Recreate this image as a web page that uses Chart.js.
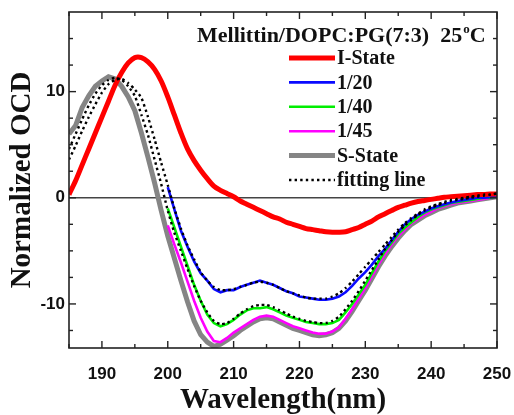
<!DOCTYPE html>
<html>
<head>
<meta charset="utf-8">
<script src="https://cdn.jsdelivr.net/npm/chart.js@4"></script>
<style>
  html, body { margin: 0; padding: 0; background: #fff; }
</style>
</head>
<body>
<canvas id="cdChart" width="514" height="415"></canvas>
<script>
// wavelengths (nm)
const wavelengths = [185,186,187,188,189,190,191,192,193,194,195,196,197,198,199,200,201,202,203,204,
  205,206,207,208,209,210,211,212,213,214,215,216,217,218,219,220,221,222,223,224,
  225,226,227,228,229,230,231,232,233,234,235,236,237,238,239,240,241,242,243,244,
  245,246,247,248,249,250];
const wavelengthsShort = [200,201,202,203,204,205,206,207,208,209,210,211,212,213,214,215,216,217,218,219,
  220,221,222,223,224,225,226,227,228,229,230,231,232,233,234,235,236,237,238,239,
  240,241,242,243,244,245,246,247,248,249,250];

const iState = [0.3,1.6,3.1,4.6,6.1,7.6,9.1,10.6,11.8,12.7,
  13.2,13.2,12.8,12.1,11.0,9.5,7.8,6.1,4.6,3.5,
  2.6,1.8,1.1,0.7,0.4,0.1,-0.3,-0.6,-0.9,-1.2,
  -1.5,-1.8,-2.0,-2.3,-2.5,-2.7,-2.9,-3.0,-3.1,-3.2,
  -3.25,-3.25,-3.2,-3.0,-2.8,-2.5,-2.2,-1.8,-1.5,-1.2,
  -0.9,-0.7,-0.5,-0.35,-0.25,-0.15,-0.05,0.05,0.1,0.15,
  0.2,0.25,0.3,0.3,0.35,0.35];
const sState = [6.0,6.8,8.5,9.6,10.5,11.0,11.4,11.2,10.5,9.5,
  8.2,6.1,3.8,1.4,-1.2,-3.6,-5.7,-7.8,-9.8,-11.6,
  -12.9,-13.6,-14.0,-13.8,-13.4,-13.0,-12.5,-12.1,-11.7,-11.4,
  -11.3,-11.4,-11.7,-12.0,-12.3,-12.5,-12.7,-12.9,-13.0,-12.9,
  -12.7,-12.3,-11.6,-10.7,-9.7,-8.7,-7.6,-6.5,-5.5,-4.6,
  -3.8,-3.1,-2.5,-2.1,-1.7,-1.4,-1.1,-0.9,-0.7,-0.5,
  -0.4,-0.3,-0.2,-0.1,0.0,0.1];
const ratio20 = [1.0,-1.1,-3.1,-4.6,-6.0,-7.1,-7.8,-8.6,-8.9,-8.7,
  -8.7,-8.4,-8.2,-8.0,-7.8,-8.0,-8.2,-8.5,-8.8,-9.0,
  -9.3,-9.4,-9.5,-9.6,-9.6,-9.5,-9.3,-8.9,-8.3,-7.6,
  -7.0,-6.3,-5.5,-4.8,-4.0,-3.2,-2.5,-2.0,-1.6,-1.3,
  -1.0,-0.8,-0.6,-0.45,-0.3,-0.2,-0.1,0.0,0.0,0.05,
  0.1];
const ratio40 = [-1.0,-2.8,-4.6,-6.4,-8.2,-9.7,-11.0,-11.8,-12.1,-11.9,
  -11.5,-11.0,-10.6,-10.4,-10.4,-10.3,-10.5,-10.8,-11.1,-11.3,
  -11.5,-11.7,-11.8,-11.9,-11.9,-11.8,-11.5,-10.8,-10.0,-9.1,
  -8.2,-7.1,-6.0,-5.0,-4.2,-3.4,-2.8,-2.3,-1.8,-1.4,
  -1.1,-0.9,-0.7,-0.5,-0.4,-0.3,-0.2,-0.1,0.0,0.0,
  0.1];
const ratio45 = [-2.6,-4.4,-6.1,-7.9,-9.7,-11.3,-12.6,-13.5,-13.6,-13.2,
  -12.7,-12.3,-11.9,-11.5,-11.2,-11.1,-11.2,-11.5,-11.8,-12.1,
  -12.3,-12.5,-12.7,-12.8,-12.8,-12.6,-12.2,-11.4,-10.5,-9.5,
  -8.5,-7.4,-6.3,-5.3,-4.4,-3.6,-3.0,-2.4,-2.0,-1.6,
  -1.3,-1.0,-0.8,-0.6,-0.5,-0.4,-0.3,-0.2,-0.1,0.0,
  0.1];
const fit20 = [3.6,4.9,6.3,7.6,8.8,9.9,10.7,11.1,11.2,10.8,
  10.2,9.4,7.6,5.5,3.3,1.2,-1.0,-2.9,-4.5,-5.8,
  -7.0,-7.8,-8.4,-8.7,-8.7,-8.6,-8.4,-8.2,-8.0,-7.9,
  -8.0,-8.2,-8.5,-8.8,-9.0,-9.2,-9.4,-9.5,-9.5,-9.5,
  -9.3,-9.0,-8.5,-7.9,-7.2,-6.5,-5.8,-5.1,-4.4,-3.7,
  -3.0,-2.4,-1.9,-1.5,-1.1,-0.8,-0.6,-0.4,-0.2,-0.1,
  0.0,0.1,0.2,0.3,0.3,0.4];
const fit40 = [4.6,6.0,7.4,8.7,9.8,10.6,11.1,11.3,11.1,10.5,
  9.6,7.8,5.9,3.6,1.3,-1.2,-3.3,-5.0,-6.7,-8.3,
  -9.7,-10.8,-11.6,-11.9,-11.8,-11.4,-10.9,-10.5,-10.2,-10.1,
  -10.1,-10.3,-10.6,-10.9,-11.2,-11.4,-11.6,-11.7,-11.8,-11.8,
  -11.6,-11.2,-10.5,-9.7,-8.8,-7.8,-6.8,-5.8,-4.8,-4.0,
  -3.2,-2.6,-2.1,-1.6,-1.2,-0.9,-0.7,-0.5,-0.3,-0.2,
  -0.1,0.0,0.1,0.2,0.3,0.4];

// tick labels
const xTicks = [190,200,210,220,230,240,250];
const xMinorTicks = [185,195,205,215,225,235,245];
const yTicks = [-10,0,10];
const yMinorTicks = [-12.5,-7.5,-5,-2.5,2.5,5,7.5,12.5,15];

const legendLabels = ["I-State","1/20","1/40","1/45","S-State","fitting line"];
const chartTitle = "Mellittin/DOPC:PG(7:3)  25";

const serif = "'Liberation Serif', 'Times New Roman', serif";
const sans = "'Liberation Sans', Arial, sans-serif";

const toPoints = (xs, ys) => xs.map((x, i) => ({x: x, y: ys[i]}));

// styles for each curve, also used by the legend
const styles = {
  red:   {color: "#ff0000", width: 5, dash: []},
  blue:  {color: "#0a0aff", width: 2.6, dash: []},
  green: {color: "#00ee00", width: 2.6, dash: []},
  pink:  {color: "#ff00ff", width: 2.6, dash: []},
  gray:  {color: "#858585", width: 5, dash: []},
  fit:   {color: "#000000", width: 2.4, dash: [2.4, 3.2]}
};
const legendStyles = [styles.red, styles.blue, styles.green, styles.pink, styles.gray, styles.fit];

function makeSet(label, pts, st, order, tension) {
  return {
    label: label,
    data: pts,
    borderColor: st.color,
    borderWidth: st.width,
    borderDash: st.dash,
    pointRadius: 0,
    fill: false,
    tension: tension,
    order: order
  };
}

const frameAndLegend = {
  id: "frameAndLegend",
  afterDraw(chart) {
    const {ctx, chartArea: a, scales: {x, y}} = chart;
    ctx.save();
    ctx.strokeStyle = "#222";
    ctx.lineWidth = 1.6;
    ctx.strokeRect(a.left, a.top, a.right - a.left, a.bottom - a.top);

    // inward ticks on all four sides
    const tick = (x1, y1, x2, y2) => { ctx.beginPath(); ctx.moveTo(x1, y1); ctx.lineTo(x2, y2); ctx.stroke(); };
    ctx.lineWidth = 1.4;
    xTicks.forEach(v => { const px = x.getPixelForValue(v); tick(px, a.bottom, px, a.bottom - 7); tick(px, a.top, px, a.top + 7); });
    xMinorTicks.forEach(v => { const px = x.getPixelForValue(v); tick(px, a.bottom, px, a.bottom - 4); tick(px, a.top, px, a.top + 4); });
    yTicks.forEach(v => { const py = y.getPixelForValue(v); tick(a.left, py, a.left + 7, py); tick(a.right, py, a.right - 7, py); });
    yMinorTicks.forEach(v => { const py = y.getPixelForValue(v); tick(a.left, py, a.left + 4, py); tick(a.right, py, a.right - 4, py); });

    // title inside the plot
    ctx.fillStyle = "#111";
    ctx.textBaseline = "alphabetic";
    ctx.textAlign = "left";
    ctx.font = "bold 22px " + serif;
    const tx = 197, ty = 42;
    ctx.fillText(chartTitle, tx, ty);
    const w = ctx.measureText(chartTitle).width;
    ctx.font = "bold 13px " + serif;
    ctx.fillText("o", tx + w + 1, ty - 9);
    const ow = ctx.measureText("o").width;
    ctx.font = "bold 22px " + serif;
    ctx.fillText("C", tx + w + ow + 1, ty);

    // legend
    ctx.font = "bold 20px " + serif;
    ctx.textBaseline = "middle";
    legendLabels.forEach((lab, i) => {
      const st = legendStyles[i];
      const ly = 58 + i * 24.4;
      ctx.strokeStyle = st.color;
      ctx.lineWidth = st.width;
      ctx.setLineDash(st.dash);
      ctx.beginPath();
      ctx.moveTo(289, ly);
      ctx.lineTo(335, ly);
      ctx.stroke();
      ctx.setLineDash([]);
      ctx.fillStyle = "#111";
      ctx.fillText(lab, 337, ly + 1);
    });
    ctx.restore();
  }
};

new Chart(document.getElementById("cdChart"), {
  type: "line",
  data: {
    datasets: [
      makeSet("fitting line 1/20", toPoints(wavelengths, fit20), styles.fit, 0, 0.2),
      makeSet("fitting line 1/40", toPoints(wavelengths, fit40), styles.fit, 1, 0.2),
      makeSet("I-State", toPoints(wavelengths, iState), styles.red, 2, 0.3),
      makeSet("1/20", toPoints(wavelengthsShort, ratio20), styles.blue, 3, 0),
      makeSet("1/40", toPoints(wavelengthsShort, ratio40), styles.green, 4, 0),
      makeSet("1/45", toPoints(wavelengthsShort, ratio45), styles.pink, 5, 0),
      makeSet("S-State", toPoints(wavelengths, sState), styles.gray, 6, 0)
    ]
  },
  options: {
    responsive: false,
    animation: false,
    layout: { padding: { top: 12, right: 17, left: 0, bottom: 0 } },
    plugins: { legend: { display: false }, tooltip: { enabled: false } },
    scales: {
      x: {
        type: "linear",
        min: 185,
        max: 250,
        afterBuildTicks: s => { s.ticks = xTicks.map(v => ({value: v})); },
        afterFit: s => { s.height = 67; s.paddingLeft = 0; s.paddingRight = 0; },
        border: { display: false },
        grid: { display: false, drawTicks: false },
        ticks: { color: "#111", padding: 16, font: { family: sans, size: 17, weight: "bold" } },
        title: {
          display: true,
          text: "Wavelength(nm)",
          color: "#111",
          padding: { top: 0, bottom: 0 },
          font: { family: serif, size: 29, weight: "bold", lineHeight: 1 }
        }
      },
      y: {
        type: "linear",
        min: -14.15,
        max: 17.5,
        afterBuildTicks: s => { s.ticks = yTicks.map(v => ({value: v})); },
        afterFit: s => { s.width = 69; s.paddingTop = 0; s.paddingBottom = 0; },
        border: { display: false },
        grid: {
          drawTicks: false,
          lineWidth: 1.5,
          color: c => (c.tick && c.tick.value === 0) ? "#444" : "rgba(0,0,0,0)"
        },
        ticks: { color: "#111", padding: 4, font: { family: sans, size: 17, weight: "bold" } },
        title: {
          display: true,
          text: "Normalized OCD",
          color: "#111",
          padding: { top: 8, bottom: 0 },
          font: { family: serif, size: 29, weight: "bold", lineHeight: 1 }
        }
      }
    }
  },
  plugins: [frameAndLegend]
});
</script>
</body>
</html>
